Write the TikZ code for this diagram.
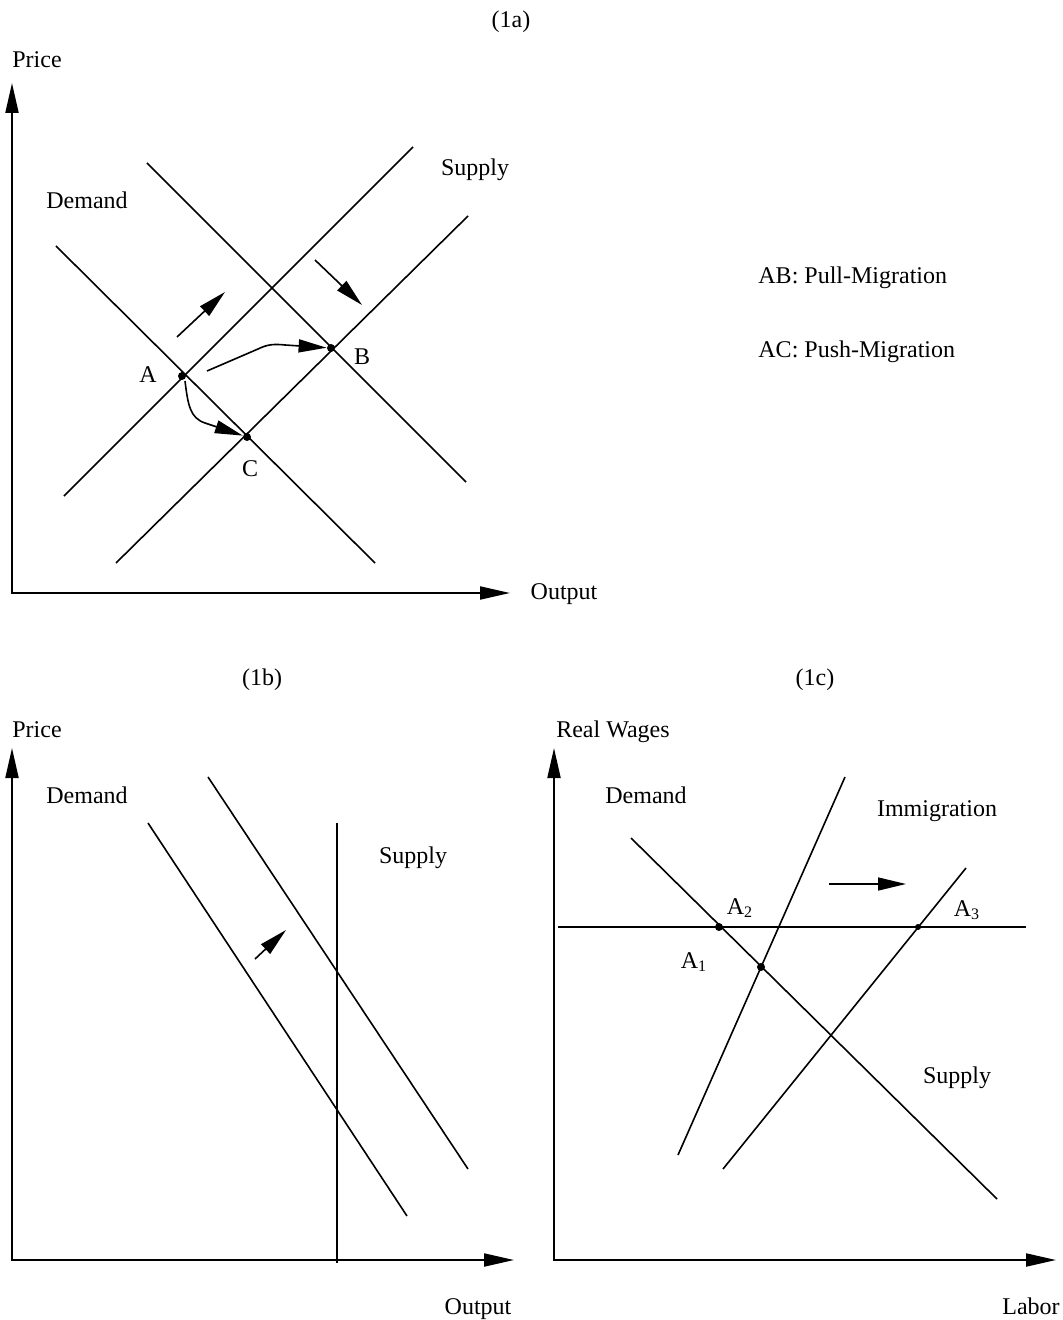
\documentclass[tikz,border=0pt]{standalone}
\usepackage{fontspec}
\setmainfont{Liberation Serif}
\usetikzlibrary{arrows.meta}

\begin{document}
\begin{tikzpicture}[x=0.5pt,y=-0.5pt,
  lbl/.style={anchor=base,inner sep=0pt,font=\fontsize{12}{14}\selectfont},
  axisline/.style={line width=1pt,{Triangle[length=15pt,width=6.5pt]}-{Triangle[length=15pt,width=6.5pt]}},
  sdcurve/.style={line width=0.8pt},
  shiftarrow/.style={line width=0.8pt,-{Triangle[length=14pt,width=6.5pt]}},
  dot/.style={circle,fill=black,inner sep=0pt,minimum size=4pt}]
\useasboundingbox (0,0) rectangle (1062,1320);

% (1a)
\node [lbl] (t1a) at (511,28) {(1a)};
\node [lbl] (p1a) at (37,68) {Price};
\draw [axisline] (12,83) -- (12,593) -- (510,593);
\node [lbl] (o1a) at (564,599) {Output};
\draw [sdcurve] (64,496) -- (413,147);
\draw [sdcurve] (116,563) -- (468,216);
\draw [sdcurve] (56,246) -- (375,563);
\draw [sdcurve] (147,163) -- (466,482);
\node [lbl] (s1a) at (475,176) {Supply};
\node [lbl] (d1a) at (87,209) {Demand};
\node [dot] (A) at (182,376) {};
\node [dot] (B) at (331,348) {};
\node [dot] (C) at (247,437) {};
\node [lbl] (la) at (148,383) {A};
\node [lbl] (lb) at (362,365) {B};
\node [lbl] (lc) at (250,476) {C};
\coordinate (u1) at (177,337);
\coordinate (u2) at (225,292);
\coordinate (r1) at (315,260);
\coordinate (r2) at (362,305);
\draw [shiftarrow] (u1) -- (u2);
\draw [shiftarrow] (r1) -- (r2);
\coordinate (ab) at (207,371);
\coordinate (ac) at (185,381);
\draw [shiftarrow] (ab) -- (258,349) .. controls (268,344) and (275,344) .. (285,345) -- ([xshift=-16]B);
\draw [shiftarrow] (ac) .. controls (188,405) and (190,418) .. (205,423) -- ([xshift=-17,yshift=-2]C);
\node [lbl,anchor=base west] (pull) at (758,284) {AB: Pull-Migration};
\node [lbl,anchor=base west] (push) at (758,358) {AC: Push-Migration};

% (1b)
\node [lbl] (t1b) at (262,685) {(1b)};
\node [lbl] (p1b) at (37,737) {Price};
\draw [axisline] (12,748) -- (12,1260) -- (514,1260);
\node [lbl] (o1b) at (478,1314) {Output};
\draw [sdcurve] (148,823) -- (407,1216);
\draw [sdcurve] (208,777) -- (468,1169);
\draw [sdcurve] (337,823) -- (337,1263);
\node [lbl] (d1b) at (87,803) {Demand};
\node [lbl] (s1b) at (413,863) {Supply};
\coordinate (b1) at (255,959);
\coordinate (b2) at (286,930);
\draw [shiftarrow] (b1) -- (b2);

% (1c)
\node [lbl] (t1c) at (815,685) {(1c)};
\node [lbl] (w1c) at (613,737) {Real Wages};
\draw [axisline] (554,748) -- (554,1260) -- (1056,1260);
\node [lbl] (l1c) at (1031,1314) {Labor};
\draw [sdcurve] (558,927) -- (1026,927);
\draw [sdcurve] (631,838) -- (997,1199);
\draw [sdcurve] (845,777) -- (678,1155);
\draw [sdcurve] (966,868) -- (723,1169);
\node [dot] (A1) at (761,967) {};
\node [dot] (A2) at (719,927) {};
\node [dot,minimum size=3pt] (A3) at (918,927) {};
\node [lbl] (la1) at (694,968) {A\textsubscript{1}};
\node [lbl] (la2) at (740,914) {A\textsubscript{2}};
\node [lbl] (la3) at (967,916) {A\textsubscript{3}};
\node [lbl] (d1c) at (646,803) {Demand};
\node [lbl] (i1c) at (937,816) {Immigration};
\node [lbl] (s1c) at (957,1083) {Supply};
\coordinate (c1) at (829,884);
\coordinate (c2) at (906,884);
\draw [shiftarrow] (c1) -- (c2);
\end{tikzpicture}
\end{document}
